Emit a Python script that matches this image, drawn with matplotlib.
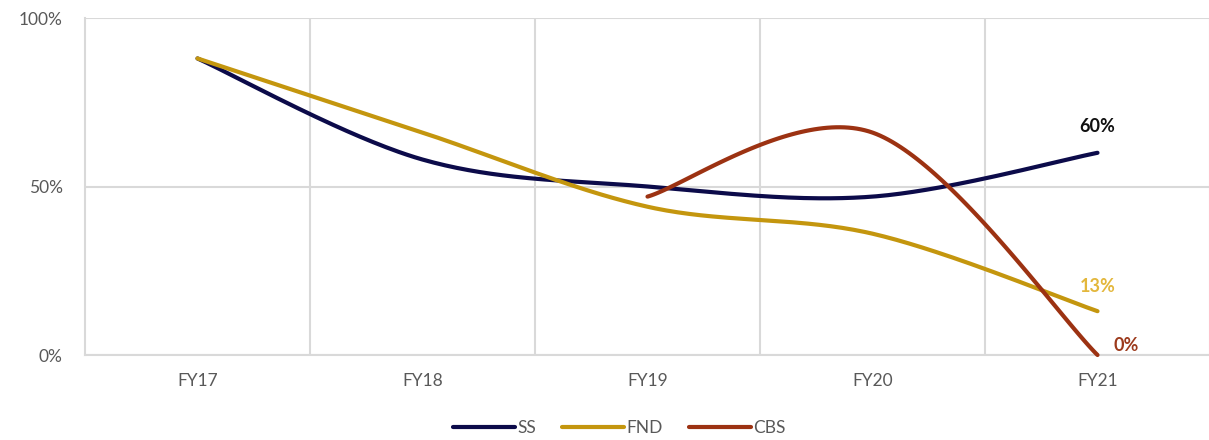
import numpy as np
import matplotlib
matplotlib.use("Agg")
import matplotlib.pyplot as plt
from matplotlib.lines import Line2D

plt.rcParams['font.family'] = ['Lato', 'DejaVu Sans']

categories = ["FY17", "FY18", "FY19", "FY20", "FY21"]
ss = [88, 58, 50, 47, 60]
fnd = [88, 66, 44, 36, 13]
cbs = [None, None, 47, 66, 0]

colors = {"SS": "#0c0b4a", "FND": "#c4960e", "CBS": "#9c3212"}


def smooth(xs, ys, n=60):
    """Bezier smoothing through the points (same scheme as spreadsheet smoothed lines)."""
    pts = np.column_stack([xs, ys]).astype(float)
    out = []
    for i in range(len(pts) - 1):
        p0 = pts[max(i - 1, 0)]
        p1 = pts[i]
        p2 = pts[i + 1]
        p3 = pts[min(i + 2, len(pts) - 1)]
        c1 = p1 + (p2 - p0) / 6.0
        c2 = p2 - (p3 - p1) / 6.0
        t = np.linspace(0, 1, n)[:, None]
        seg = ((1 - t) ** 3) * p1 + 3 * ((1 - t) ** 2) * t * c1 + 3 * (1 - t) * t ** 2 * c2 + t ** 3 * p2
        out.append(seg if i == 0 else seg[1:])
    seg = np.vstack(out)
    return seg[:, 0], seg[:, 1]


fig = plt.figure(figsize=(12.09, 4.4), dpi=100)
ax = fig.add_axes([85 / 1209, 1 - 355 / 440, 1125 / 1209, 337 / 440])

x = np.arange(len(categories))
for name, vals in (("SS", ss), ("FND", fnd), ("CBS", cbs)):
    xs = [xi for xi, v in zip(x, vals) if v is not None]
    ys = [v for v in vals if v is not None]
    sx, sy = smooth(xs, ys)
    ax.plot(sx, sy, color=colors[name], lw=3.0, solid_capstyle="round", clip_on=False, zorder=3)

ax.set_xlim(-0.5, 4.5)
ax.set_ylim(0, 100)
ax.set_yticks([0, 50, 100])
ax.set_yticklabels(["0%", "50%", "100%"])
ax.set_xticks(x)
ax.set_xticklabels(categories)
ax.set_xticks(np.arange(0.5, 4.6, 1.0), minor=True)
ax.tick_params(axis="both", which="both", length=0, labelsize=12.5, labelcolor="#595959")
ax.tick_params(axis="x", pad=13)
ax.tick_params(axis="y", pad=16)
ax.grid(True, which="minor", axis="x", color="#d9d9d9", lw=1.5)
ax.grid(True, which="major", axis="y", color="#d9d9d9", lw=1.5)
for s in ("top", "right"):
    ax.spines[s].set_visible(False)
for s in ("left", "bottom"):
    ax.spines[s].set_color("#d9d9d9")
    ax.spines[s].set_linewidth(1.5)

ax.annotate(f"{ss[-1]}%", (4, ss[-1]), xytext=(0, 13), textcoords="offset points",
            ha="center", va="bottom", fontsize=13, fontweight="bold", color="#111111")
ax.annotate(f"{fnd[-1]}%", (4, fnd[-1]), xytext=(0, 12), textcoords="offset points",
            ha="center", va="bottom", fontsize=13, fontweight="bold", color="#e3b73c")
ax.annotate(f"{cbs[-1]}%", (4, cbs[-1]), xytext=(21, 1), textcoords="offset points",
            ha="center", va="bottom", fontsize=13, fontweight="bold", color="#9c3a1c")

handles = [Line2D([], [], color=colors[k], lw=3.0, solid_capstyle="round") for k in colors]
fig.legend(handles, list(colors), loc="center", bbox_to_anchor=(619 / 1209, 1 - 428 / 440),
           ncol=3, frameon=False, fontsize=12.5, labelcolor="#595959",
           handlelength=3.6, handletextpad=0.1, columnspacing=1.5)

fig.savefig("out.png", dpi=100)
